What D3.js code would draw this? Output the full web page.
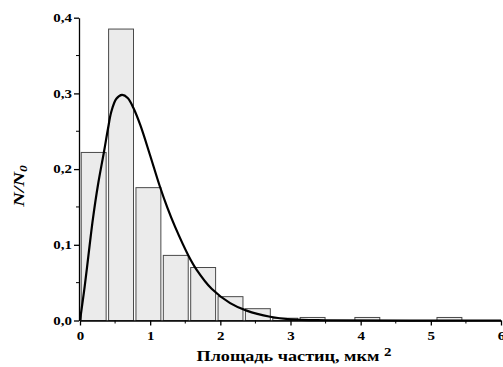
<!DOCTYPE html>
<html>
<head>
<meta charset="utf-8">
<script src="https://cdn.jsdelivr.net/npm/d3@7"></script>
<style>
  html, body { margin: 0; padding: 0; background: #fff; }
  svg { display: block; }
  text { font-family: "Liberation Serif", "Times New Roman", serif; font-weight: bold; fill: #000; }
</style>
</head>
<body>
<div id="chart"></div>
<script>
// Histogram bins (left edge, µm²) and fraction N/N0
const binLeft = [0, 0.39, 0.78, 1.17, 1.56, 1.95, 2.34, 2.73, 3.12, 3.90, 5.07];
const fractions = [0.222, 0.385, 0.1755, 0.086, 0.070, 0.0315, 0.0156, 0.003, 0.004, 0.004, 0.004];

// Fitted distribution curve
const curveX = [0, 0.067, 0.138, 0.185, 0.256, 0.342, 0.40, 0.447, 0.518, 0.599, 0.68, 0.76, 0.86, 0.993, 1.135, 1.245, 1.354, 1.544, 1.663, 1.876, 2.14, 2.375, 2.71, 3.0, 3.5, 6.0];
const curveY = [0, 0.045, 0.100, 0.135, 0.179, 0.223, 0.254, 0.276, 0.293, 0.298, 0.294, 0.281, 0.258, 0.220, 0.178, 0.149, 0.124, 0.086, 0.067, 0.042, 0.023, 0.013, 0.005, 0.0016, 0.0003, 0];

// Axis ticks
const xTicks = [0, 1, 2, 3, 4, 5, 6];
const xMinor = [0.5, 1.5, 2.5, 3.5, 4.5, 5.5];
const yTicks = [0, 0.1, 0.2, 0.3, 0.4];
const yMinor = [0.05, 0.15, 0.25, 0.35];

const width = 503;
const height = 367;
const stretch = 1.3; // glyphs in the original are wide, scale them horizontally

const svg = d3.select('#chart')
    .append("svg")
    .attr("width", width)
    .attr("height", height);

const x = d3.scaleLinear().domain([0, 6]).range([80, 501]);
const y = d3.scaleLinear().domain([0, 0.4]).range([320.5, 17.7]);

// bars (narrower than the bin, small gap between them)
svg.append("g")
    .selectAll("rect")
    .data(binLeft.map((b, i) => ({ left: b, value: fractions[i] })))
    .join("rect")
    .attr("x", d => x(d.left + 0.0175))
    .attr("y", d => y(d.value))
    .attr("width", d => x(d.left + 0.0175 + 0.355) - x(d.left + 0.0175))
    .attr("height", d => y(0) - y(d.value))
    .attr("fill", "#ebebeb")
    .attr("stroke", "#4a4a4a")
    .attr("stroke-width", 1);

// fitted curve
const line = d3.line()
    .x(d => x(d[0]))
    .y(d => y(d[1]))
    .curve(d3.curveCatmullRom.alpha(0.5));

svg.append("path")
    .datum(curveX.map((v, i) => [v, curveY[i]]))
    .attr("d", line)
    .attr("fill", "none")
    .attr("stroke", "#000")
    .attr("stroke-width", 2.2);

const fmt = d => d.toFixed(1).replace('.', ',');

// y axis
const yAxis = svg.append("g")
    .attr("transform", `translate(${x(0) - 1},0)`)
    .call(d3.axisLeft(y).tickValues(yTicks).tickSize(5).tickSizeOuter(0).tickFormat(fmt));
yAxis.selectAll("g.minor")
    .data(yMinor)
    .join("line")
    .attr("x1", -3).attr("x2", 0)
    .attr("y1", d => y(d)).attr("y2", d => y(d))
    .attr("stroke", "#000");

// x axis
const xAxis = svg.append("g")
    .attr("transform", `translate(0,${y(0)})`)
    .call(d3.axisBottom(x).tickValues(xTicks).tickSize(5).tickSizeOuter(0).tickFormat(d3.format("d")));
xAxis.selectAll("g.minor")
    .data(xMinor)
    .join("line")
    .attr("y1", 0).attr("y2", 3)
    .attr("x1", d => x(d)).attr("x2", d => x(d))
    .attr("stroke", "#000");

svg.selectAll(".domain, .tick line").attr("stroke-width", 1.3);
svg.selectAll(".tick text")
    .attr("font-family", null)
    .attr("font-size", 11.5)
    .attr("fill", "#000");
yAxis.selectAll(".tick text")
    .attr("x", -7 / stretch)
    .attr("transform", `scale(${stretch},1)`);
xAxis.selectAll(".tick text")
    .attr("y", 11)
    .attr("transform", `scale(${stretch},1)`);

// axis titles
const xTitle = svg.append("text")
    .attr("transform", `translate(196.5,360.5) scale(${stretch},1)`)
    .attr("font-size", 14);
xTitle.append("tspan").text("Площадь частиц, мкм ");
xTitle.append("tspan").attr("dy", -5).attr("font-size", 11.5).text("2");

const yTitle = svg.append("text")
    .attr("transform", `translate(24,186) rotate(-90) scale(${stretch},1)`)
    .attr("text-anchor", "middle")
    .attr("font-size", 15.5)
    .attr("font-style", "italic");
yTitle.append("tspan").text("N/N");
yTitle.append("tspan").attr("dy", 3).attr("font-size", 10.5).text("0");
</script>
</body>
</html>
